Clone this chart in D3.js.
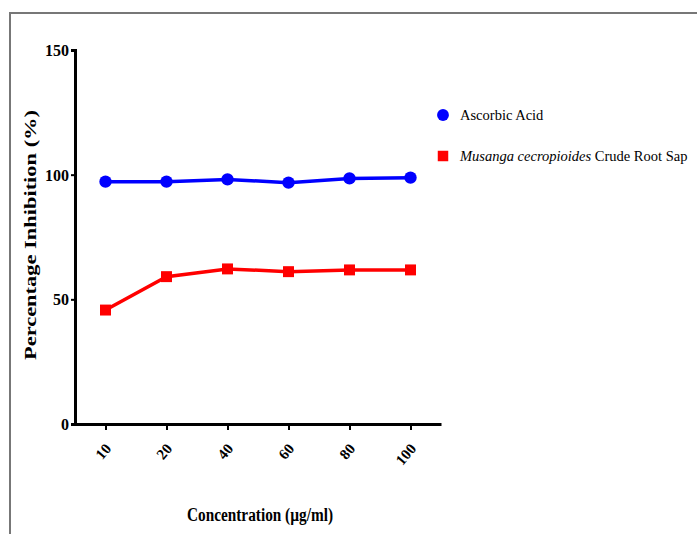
<!DOCTYPE html>
<html>
<head>
<meta charset="utf-8">
<script src="https://cdn.jsdelivr.net/npm/d3@7"></script>
<style>
  body { margin: 0; background: #fff; }
  svg { display: block; font-family: "Liberation Serif", "DejaVu Serif", serif; }
</style>
</head>
<body>
<svg id="chart" width="697" height="534"></svg>
<script>
    'use strict';

    // concentrations (ug/ml) and % inhibition
    var concentrations = ["10", "20", "40", "60", "80", "100"];
    var ascorbicAcid = [97.2, 97.2, 98.1, 96.8, 98.5, 98.8];
    var rootSap = [45.7, 59.1, 62.2, 61.1, 61.8, 61.8];
    var yTicks = [0, 50, 100, 150];

    var svg = d3.select('#chart');

    // outer frame (only top and left edges are visible)
    svg.append('path')
        .attr('d', 'M10,534V13H697')
        .attr('fill', 'none')
        .attr('stroke', '#777')
        .attr('stroke-width', 2);

    var x = d3.scalePoint()
        .domain(concentrations)
        .range([75, 441])
        .padding(0.5);

    var y = d3.scaleLinear()
        .domain([0, 150])
        .range([424, 50]);

    // y axis
    var yAxis = svg.append('g')
        .attr('transform', 'translate(75,0)')
        .call(d3.axisLeft(y).tickValues(yTicks).tickSize(4).tickPadding(2));
    yAxis.select('.domain').attr('stroke-width', 3);
    yAxis.selectAll('.tick line').attr('stroke-width', 2);
    yAxis.selectAll('.tick text')
        .attr('font-family', '"Liberation Serif", serif')
        .attr('font-weight', 'bold')
        .attr('font-size', 17)
        .attr('fill', '#000')
        .attr('textLength', function(d) { return String(d).length * 8; })
        .attr('lengthAdjust', 'spacingAndGlyphs');

    // x axis
    var xAxis = svg.append('g')
        .attr('transform', 'translate(0,424)')
        .call(d3.axisBottom(x).tickSize(6).tickSizeOuter(0));
    xAxis.select('.domain').attr('stroke-width', 3);
    xAxis.selectAll('.tick line').attr('stroke-width', 2);
    xAxis.selectAll('.tick text')
        .attr('font-family', '"Liberation Serif", serif')
        .attr('font-weight', 'bold')
        .attr('font-size', 15)
        .attr('fill', '#000')
        .attr('text-anchor', 'end')
        .attr('dy', null)
        .attr('y', 0)
        .attr('transform', 'translate(6,25) rotate(-50)');

    // axis titles
    svg.append('text')
        .attr('x', 260)
        .attr('y', 521)
        .attr('text-anchor', 'middle')
        .attr('font-weight', 'bold')
        .attr('font-size', 18)
        .attr('textLength', 146)
        .attr('lengthAdjust', 'spacingAndGlyphs')
        .text('Concentration (µg/ml)');

    svg.append('text')
        .attr('transform', 'translate(36,235) rotate(-90)')
        .attr('text-anchor', 'middle')
        .attr('font-weight', 'bold')
        .attr('font-size', 17)
        .attr('textLength', 250)
        .attr('lengthAdjust', 'spacingAndGlyphs')
        .text('Percentage Inhibition (%)');

    var line = d3.line()
        .x(function(d, i) { return x(concentrations[i]); })
        .y(function(d) { return y(d); });

    var series = [
        { name: 'ascorbic', values: ascorbicAcid, color: '#0000ff', shape: d3.symbolCircle },
        { name: 'sap', values: rootSap, color: '#ff0000', shape: d3.symbolSquare }
    ];

    series.forEach(function(s) {
        svg.append('path')
            .datum(s.values)
            .attr('d', line)
            .attr('fill', 'none')
            .attr('stroke', s.color)
            .attr('stroke-width', 3.5);

        svg.selectAll('.pt-' + s.name)
            .data(s.values)
            .enter().append('path')
            .attr('class', 'pt-' + s.name)
            .attr('transform', function(d, i) {
                return 'translate(' + x(concentrations[i]) + ',' + y(d) + ')';
            })
            .attr('d', d3.symbol().type(s.shape).size(120))
            .attr('fill', s.color);
    });

    // legend
    var legend = svg.append('g');
    legend.append('path')
        .attr('transform', 'translate(443,115)')
        .attr('d', d3.symbol().type(d3.symbolCircle).size(110))
        .attr('fill', '#0000ff');
    legend.append('text')
        .attr('x', 460).attr('y', 120)
        .attr('font-size', 14.5)
        .text('Ascorbic Acid');

    legend.append('path')
        .attr('transform', 'translate(443,156)')
        .attr('d', d3.symbol().type(d3.symbolSquare).size(110))
        .attr('fill', '#ff0000');
    var t2 = legend.append('text')
        .attr('x', 460).attr('y', 161)
        .attr('font-size', 14.5);
    t2.append('tspan').attr('font-style', 'italic').text('Musanga cecropioides');
    t2.append('tspan').text(' Crude Root Sap');
</script>
</body>
</html>
